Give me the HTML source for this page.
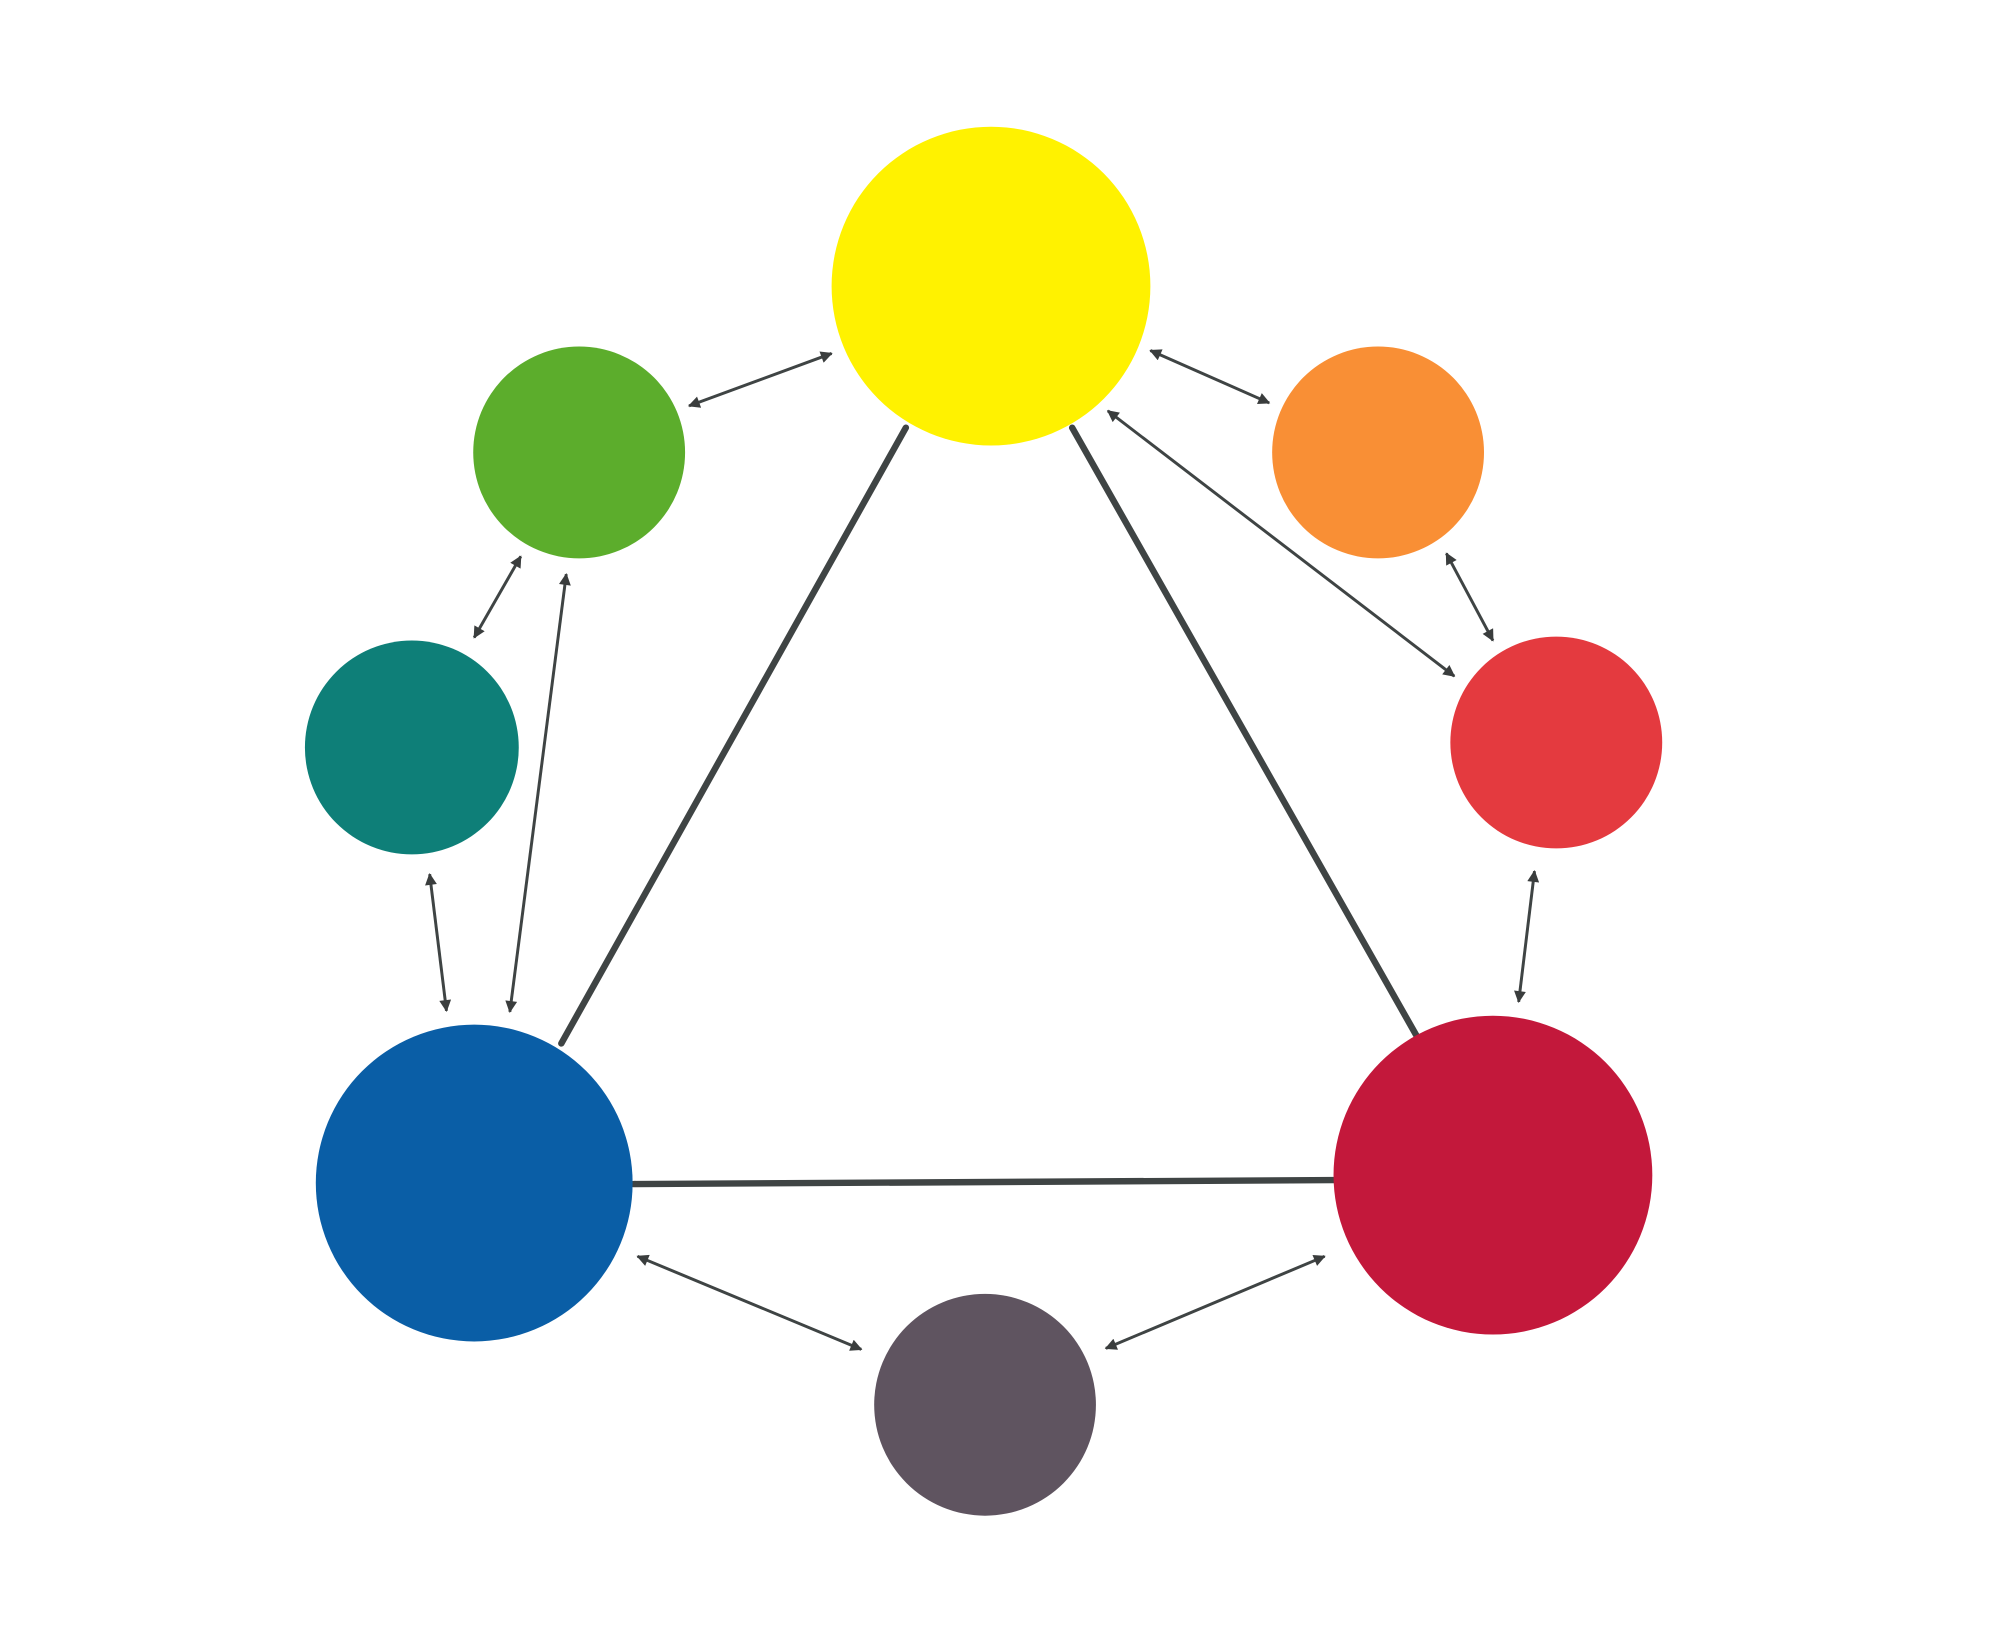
<!DOCTYPE html>
<html><head><meta charset="utf-8"><style>
html,body{margin:0;padding:0;background:#fff;}
svg{display:block;}
</style></head><body>
<svg width="2000" height="1639" viewBox="0 0 2000 1639" xmlns="http://www.w3.org/2000/svg">
<defs>
<marker id="b" viewBox="0 0 10 10" refX="9" refY="5" markerWidth="18" markerHeight="12" orient="auto-start-reverse" markerUnits="userSpaceOnUse">
<path d="M0,0 L10,5 L0,10 z" fill="#3a3d3d"/>
</marker>
</defs>
<rect width="2000" height="1639" fill="#fff"/>
<g transform="scale(0.99)">
<g stroke="#3f4444" stroke-width="6.5" fill="none" stroke-linecap="round">
<line x1="915" y1="432" x2="567" y2="1054"/>
<line x1="1083" y1="432" x2="1433" y2="1050"/>
<line x1="640" y1="1196" x2="1347" y2="1192"/>
</g>
<g stroke="#3f4444" stroke-width="3" fill="none" marker-start="url(#b)" marker-end="url(#b)">
<line x1="696" y1="410" x2="840" y2="357"/>
<line x1="1162" y1="354" x2="1282" y2="407"/>
<line x1="1119" y1="415" x2="1469" y2="683"/>
<line x1="1461" y1="559" x2="1508" y2="647"/>
<line x1="1550" y1="880" x2="1534" y2="1012"/>
<line x1="526" y1="562" x2="479" y2="644"/>
<line x1="572" y1="580" x2="515" y2="1022"/>
<line x1="434" y1="883" x2="451" y2="1021"/>
<line x1="644" y1="1269" x2="870" y2="1363"/>
<line x1="1338" y1="1269" x2="1117" y2="1362"/>
</g>
<circle cx="1001" cy="289" r="161" fill="#fff200"/>
<circle cx="585" cy="457" r="107" fill="#5cad2c"/>
<circle cx="1392" cy="457" r="107" fill="#f98f35"/>
<circle cx="416" cy="755" r="108" fill="#0e7f78"/>
<circle cx="1572" cy="750" r="107" fill="#e43a3f"/>
<circle cx="479" cy="1195" r="160" fill="#0a5ea6"/>
<circle cx="1508" cy="1187" r="161" fill="#c3183b"/>
<circle cx="995" cy="1419" r="112" fill="#5f5460"/>
</g>
</svg>
</body></html>
